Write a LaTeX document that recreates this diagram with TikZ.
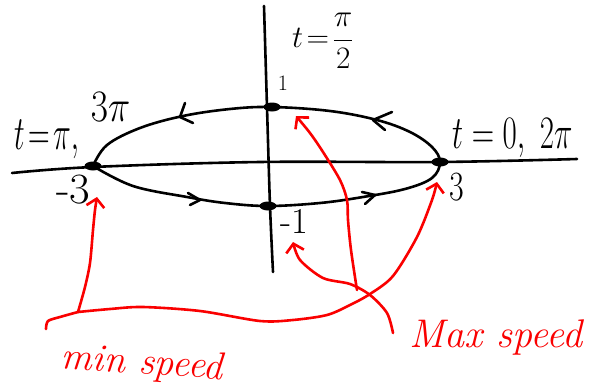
\RequirePackage{fix-cm}
\documentclass[tikz,border=0pt]{standalone}
\usetikzlibrary{arrows.meta,shapes.geometric}
\definecolor{penred}{RGB}{250,0,0}
\newcommand{\handtall}[1]{\scalebox{1}[1.3]{#1}}
\begin{document}
\begin{tikzpicture}[x=1pt,y=-1pt,
  ink/.style={line width=2.6pt, line cap=round, line join=round},
  redink/.style={ink, draw=penred},
  redarrow/.style={redink, -{Straight Barb[length=8pt,width=18pt,line width=2.6pt]}},
  dot/.style={ellipse, fill=black, inner sep=0pt, minimum width=17pt, minimum height=9pt},
  lbl/.style={inner sep=0pt, text=black},
  redlbl/.style={inner sep=0pt, text=penred, font=\fontsize{39}{40}\selectfont\itshape}]
\fill[white] (0,0) rectangle (603,391);
\useasboundingbox (0,0) rectangle (603,391);

% axes
\coordinate (xl) at (12,173);
\coordinate (xr) at (577,159);
\coordinate (yt) at (264,6);
\coordinate (yb) at (273,272);
\draw[ink] plot[smooth, tension=0.6] coordinates {(xl) (93,167) (260,162) (440,162) (xr)};
\draw[ink] plot[smooth] coordinates {(yt) (267,107) (270,206) (yb)};

% curve points
\node[dot] (L) at (93,166) {};
\node[dot] (T) at (272,107) {};
\node[dot] (R) at (440,162) {};
\node[dot] (B) at (268,206) {};

% ellipse (corner at L)
\draw[ink] plot[smooth, tension=0.6] coordinates {
  (L) (107,145) (140,128) (183,116) (230,109) (T) (330,111) (377,120) (410,132) (432,147)
  (R) (432,178) (405,189) (363,197) (320,203) (B) (225,203) (187,197) (133,186) (L)};

% direction marks
\draw[ink] (185,103) -- (180,117) -- (193,123);
\draw[ink] (392,112) -- (373,120) -- (385,130);
\draw[ink] (188,193) -- (200,200) -- (190,205);
\draw[ink] (362,192) -- (375,195) -- (365,204);

% labels
\node[lbl, font=\fontsize{26}{28}\selectfont] (tpi2) at (323,41) {\scalebox{1.2}{$t\!=\!{\displaystyle\frac{\pi}{2}}$}};
\node[lbl, font=\fontsize{22}{24}\selectfont] (one) at (283,83) {1};
\node[lbl, anchor=base west, font=\fontsize{30}{32}\selectfont] (tpi) at (14,149)
  {\scalebox{1}[1.6]{$t\!=\!\pi,$}\hspace{12pt}\raisebox{28pt}{\scalebox{1.25}[1.5]{$3\pi$}}};
\node[lbl, anchor=base west, font=\fontsize{31}{34}\selectfont] (t0) at (452,148) {\scalebox{1}[1.5]{$t=0,\ 2\pi$}};
\node[lbl, anchor=base west, font=\fontsize{32}{34}\selectfont] (m3) at (56,203) {\scalebox{1.4}[1.35]{-3}};
\node[lbl, anchor=base west, font=\fontsize{32}{34}\selectfont] (p3) at (449,200) {\handtall{3}};
\node[lbl, anchor=base west, font=\fontsize{28}{30}\selectfont] (m1) at (280,233) {\scalebox{1.3}[1.3]{-1}};

\node[redlbl, rotate=-4] (minsp) at (142,364) {min speed};
\node[redlbl, font=\fontsize{40}{42}\selectfont\itshape] (maxsp) at (496,337) {Max speed};

% red arrows
\coordinate (hook) at (46,329);
\coordinate (J) at (78,312);
\coordinate (tipA) at (97,197);
\coordinate (tipB) at (437,182);
\coordinate (S) at (393,333);
\coordinate (tipC) at (293,242);
\coordinate (S2) at (357,290);
\coordinate (tipD) at (296,116);

\draw[redink] plot[smooth] coordinates {(hook) (48,321) (60,317) (J)};
\draw[redarrow] plot[smooth] coordinates {(J) (85,287) (90,263) (93,230) (95,210) (tipA)};
\draw[redarrow] plot[smooth] coordinates {(J) (110,309) (143,307) (200,311) (260,321) (293,320) (327,315) (350,305) (370,294) (393,276) (417,237) (432,200) (tipB)};
\draw[redarrow] plot[smooth] coordinates {(S) (387,313) (370,295) (350,284) (323,278) (300,260) (tipC)};
\draw[redarrow] plot[smooth] coordinates {(S2) (351,250) (348,220) (347,200) (340,180) (323,152) (310,133) (tipD)};
\end{tikzpicture}
\end{document}
